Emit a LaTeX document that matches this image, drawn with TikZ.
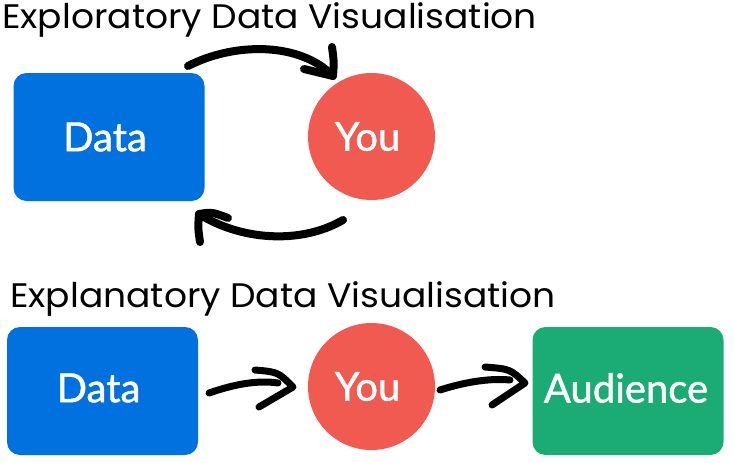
\documentclass[tikz,border=0pt]{standalone}
\usepackage{fontspec}
\newfontfamily\titlefont[FakeStretch=1.06]{Poppins}
\newfontfamily\labelfont[FakeBold=1.2]{Lato}
\definecolor{datablue}{RGB}{0,113,222}
\definecolor{youred}{RGB}{240,90,81}
\definecolor{audgreen}{RGB}{27,172,117}
\tikzset{
  box/.style={rounded corners=13pt, minimum width=191pt, minimum height=128pt, inner sep=0pt},
  you/.style={circle, fill=youred, minimum size=127pt, inner sep=0pt},
  lbl/.style={inner sep=0pt, text=white, font=\labelfont\fontsize{40}{40}\selectfont},
  arr/.style={line width=8pt, line cap=round, line join=round, draw=black},
  title/.style={anchor=base west, inner sep=0pt, font=\titlefont\fontsize{34}{34}\selectfont}
}
\begin{document}
\begin{tikzpicture}[x=1pt,y=-1pt]
\useasboundingbox (0,0) rectangle (734,463);
% titles
\node[title] (t1) at (2,28) {Exploratory Data Visualisation};
\node[title] (t2) at (10,307) {Explanatory Data Visualisation};
% top row
\node[box, fill=datablue] (d1) at (109,137) {};
\node[lbl] (d1t) at ([xshift=-4pt]d1.center) {Data};
\node[you] (y1) at (371.5,136.5) {};
\node[lbl] (y1t) at ([xshift=-4pt]y1.center) {You};
% bottom row
\node[box, fill=datablue] (d2) at (102.5,391) {};
\node[lbl] (d2t) at ([xshift=-4pt,yshift=3pt]d2.center) {Data};
\node[you] (y2) at (371.5,386.5) {};
\node[lbl] (y2t) at ([xshift=-4pt]y2.center) {You};
\node[box, fill=audgreen] (a2) at (628,391) {};
\node[lbl] (a2t) at ([xshift=-2pt,yshift=3pt]a2.center) {Audience};
% arrow coordinates
\coordinate (s1) at (188,66);
\coordinate (e1) at (333,76);
\coordinate (h1a) at (332,47);
\coordinate (h1b) at (304,69);
\coordinate (s2) at (343,220);
\coordinate (e2) at (199,214);
\coordinate (h2a) at (228,218);
\coordinate (h2b) at (200,242);
\coordinate (s3) at (209,393);
\coordinate (m3) at (278,383);
\coordinate (e3) at (293,387);
\coordinate (h3a) at (255,370);
\coordinate (h3b) at (259,407);
\coordinate (s4) at (440,390);
\coordinate (m4) at (510,380);
\coordinate (e4) at (525,383);
\coordinate (h4a) at (485,367);
\coordinate (h4b) at (492,405);
% top arrow Data -> You
\draw[arr] (s1) .. controls (235,42) and (300,42) .. (e1);
\draw[arr] (h1a) .. controls (334,62) .. (e1) .. controls (318,72) .. (h1b);
% bottom arrow You -> Data
\draw[arr] (s2) .. controls (300,245) and (240,240) .. (e2);
\draw[arr] (h2a) .. controls (212,212) .. (e2) .. controls (198,228) .. (h2b);
% explanatory arrows
\draw[arr, line width=7pt] (s3) .. controls (235,384) and (258,380) .. (m3);
\draw[arr, line width=7pt] (h3a) .. controls (278,372) .. (e3) -- (h3b);
\draw[arr, line width=7pt] (s4) .. controls (465,382) and (490,378) .. (m4);
\draw[arr, line width=7pt] (h4a) .. controls (510,369) .. (e4) -- (h4b);
\end{tikzpicture}
\end{document}
